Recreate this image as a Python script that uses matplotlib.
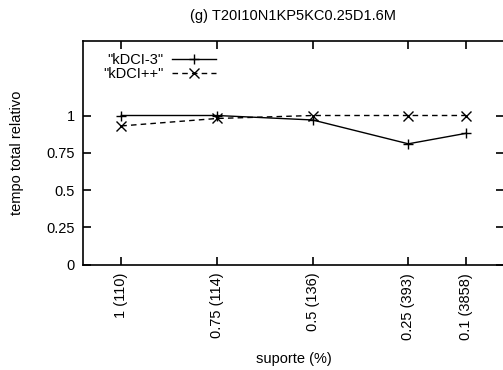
import matplotlib
matplotlib.use("Agg")
import matplotlib.pyplot as plt

# suporte (%) e rótulos
suporte = [1.0, 0.75, 0.5, 0.25, 0.1]
rotulos = ["1 (110)", "0.75 (114)", "0.5 (136)", "0.25 (393)", "0.1 (3858)"]

# tempo total relativo
kdci3 = [1.0, 1.0, 0.97, 0.81, 0.88]
kdcipp = [0.93, 0.98, 1.0, 1.0, 1.0]

plt.rcParams["font.family"] = ["Liberation Sans", "DejaVu Sans"]
plt.rcParams["font.size"] = 10.5

W, H = 503, 370
fig = plt.figure(figsize=(W / 100, H / 100), dpi=100)
ax = fig.add_axes([83 / W, (H - 264.5) / H, (504 - 83) / W, (264.5 - 41) / H])

ax.plot(suporte, kdci3, "-", color="black", lw=1.0, marker="+", ms=6.5, mew=1.0,
        label='"kDCI-3"')
ax.plot(suporte, kdcipp, "--", color="black", lw=1.0, marker="x", ms=6.5, mew=1.0,
        dashes=(4, 3), label='"kDCI++"')

ax.set_xlim(1.1, 0.0)
ax.set_ylim(0, 1.5)
ax.set_xticks(suporte)
ax.set_xticklabels(rotulos, rotation=90)
ax.set_yticks([0, 0.25, 0.5, 0.75, 1])
ax.set_yticklabels(["0", "0.25", "0.5", "0.75", "1"])
ax.tick_params(direction="in", length=6, width=1.2, top=True, right=True, pad=6)
for s in ax.spines.values():
    s.set_linewidth(1.2)

ax.set_xlabel("suporte (%)", labelpad=9)
ax.set_ylabel("tempo total relativo", labelpad=16)
ax.set_title("(g) T20I10N1KP5KC0.25D1.6M", fontsize=10.5, pad=15)

ax.legend(loc="upper left", bbox_to_anchor=(0.048, 0.946), frameon=False,
          markerfirst=False, handlelength=3, handletextpad=0.6,
          labelspacing=0.0, borderpad=0, borderaxespad=0, alignment="right")

fig.savefig("out.png", dpi=100)
